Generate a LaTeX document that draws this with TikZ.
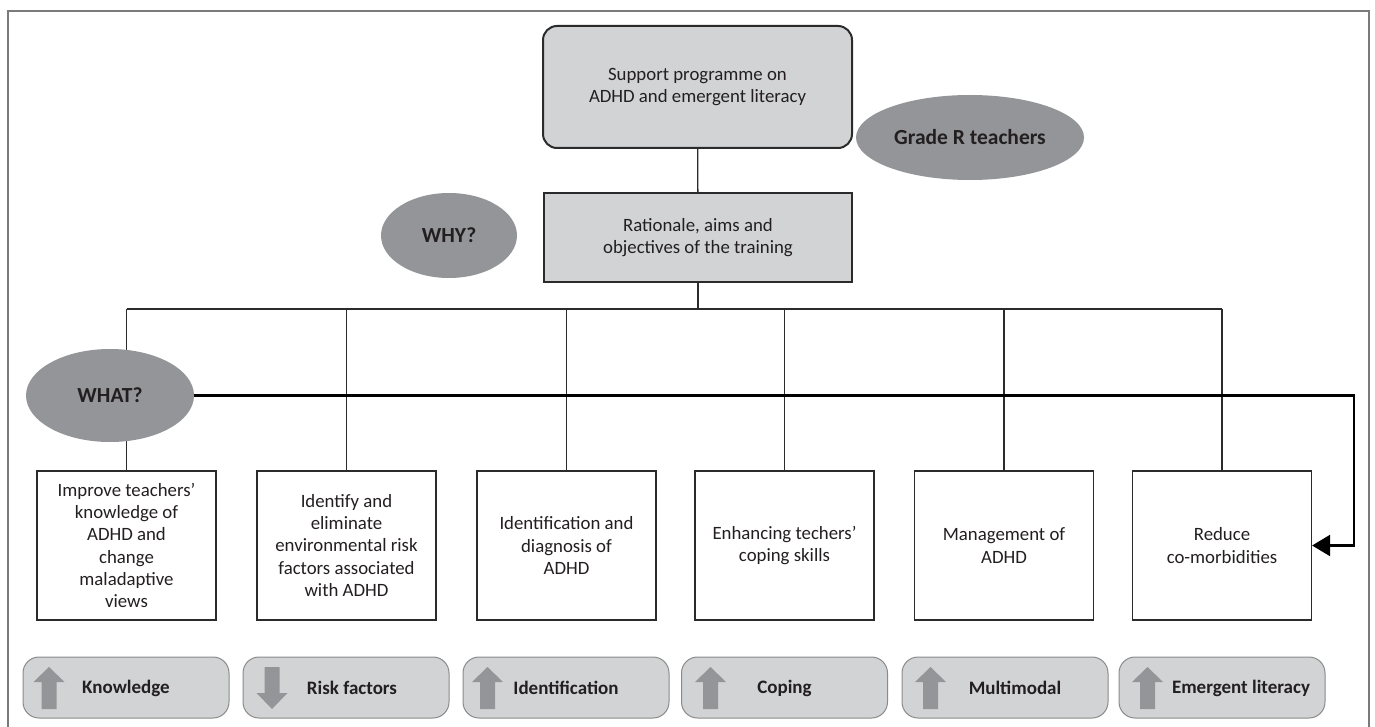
\documentclass[tikz,border=0pt]{standalone}
\usepackage{fontspec}
\setmainfont{Carlito}
\usetikzlibrary{shapes.geometric,arrows.meta}

\definecolor{boxgray}{HTML}{D1D3D4}
\definecolor{ovalgray}{HTML}{939598}
\definecolor{textdark}{HTML}{231F20}
\definecolor{linedark}{HTML}{2B2B2B}
\definecolor{edgegray}{HTML}{8A8A8A}
\definecolor{framegray}{HTML}{7A7A7A}

\newcommand{\txtfont}{\fontsize{18.8}{22.3}\selectfont}
\newcommand{\tagfont}{\fontsize{21.5}{25}\selectfont\bfseries}

\pgfdeclarelayer{back}
\pgfsetlayers{back,main}

\tikzset{
  uparrow/.pic={\fill[ovalgray] (-7.5,21) -- (-7.5,-6) -- (-15.5,-6) -- (0,-21)
                -- (15.5,-6) -- (7.5,-6) -- (7.5,21) -- cycle;},
  downarrow/.pic={\fill[ovalgray] (-7.5,-21) -- (-7.5,5) -- (-15.5,5) -- (0,21)
                -- (15.5,5) -- (7.5,5) -- (7.5,-21) -- cycle;}
}

\begin{document}
\begin{tikzpicture}[x=1pt,y=-1pt,
  progbox/.style={draw=linedark,line width=2pt,fill=boxgray,rounded corners=14pt,
    minimum width=309pt,minimum height=122pt,align=center,font=\txtfont,text=textdark},
  aimbox/.style={draw=linedark,line width=1.2pt,fill=boxgray,
    minimum width=308pt,minimum height=89pt,align=center,font=\txtfont,text=textdark},
  oval/.style={ellipse,fill=ovalgray,inner sep=0pt,font=\tagfont,text=textdark},
  topicbox/.style={draw=linedark,line width=1.2pt,fill=white,inner sep=0pt,
    minimum width=179pt,minimum height=149pt,align=center,font=\txtfont,text=textdark},
  gainbox/.style={draw=edgegray,line width=1pt,fill=boxgray,rounded corners=16pt,
    minimum width=206pt,minimum height=61pt},
  gaintext/.style={font=\fontsize{19}{23}\selectfont\bfseries,text=textdark},
  wire/.style={linedark,line width=1.3pt},
  feed/.style={black,line width=2.4pt,-{Triangle[length=18pt,width=21pt]}}]
\useasboundingbox (0,0) rectangle (1375,727);
\draw[framegray,line width=1.2pt] (8,727) -- (8,11) -- (1369,11) -- (1369,727);

% top of the programme
\node (prog) at (697.5,87) [progbox] {Support programme on\\ADHD and emergent literacy};
\node (aims) at (698,237.5) [aimbox] {Rationale, aims and\\objectives of the training};
\node (grade) at (970,137.5) [oval,minimum width=228pt,minimum height=85pt] {Grade R teachers};
\node (why) at (449,235.5) [oval,minimum width=136pt,minimum height=85pt] {WHY?};

% the six topics
\node (t1) at (126.5,545.5) [topicbox] {Improve teachers’\\knowledge of\\ADHD and\\change\\maladaptive\\views};
\node (t2) at (346.5,545.5) [topicbox] {Identify and\\eliminate\\environmental risk\\factors associated\\with ADHD};
\node (t3) at (566.5,545.5) [topicbox] {Identification and\\diagnosis of\\ADHD};
\node (t4) at (784.5,545.5) [topicbox] {Enhancing techers’\\coping skills};
\node (t5) at (1004,545.5) [topicbox] {Management of\\ADHD};
\node (t6) at (1222,545.5) [topicbox] {Reduce\\co-morbidities};
\node (what) at (110,395.5) [oval,minimum width=168pt,minimum height=93pt] {WHAT?};

\coordinate (bus) at (698,309);
\coordinate (turn) at (1354,395.5);

% outcomes
\node (g1) at (126,687.5) [gainbox] {};
\node (g2) at (346,687.5) [gainbox] {};
\node (g3) at (566,687.5) [gainbox] {};
\node (g4) at (784.5,687.5) [gainbox] {};
\node (g5) at (1005,687.5) [gainbox] {};
\node (g6) at (1222,687.5) [gainbox] {};
\pic at (49,688) {uparrow};
\pic at (272,688) {downarrow};
\pic at (487.5,688) {uparrow};
\pic at (710.5,688) {uparrow};
\pic at (930.5,688) {uparrow};
\pic at (1147.5,688) {uparrow};
\node (l1) at (126,688) [gaintext] {Knowledge};
\node (l2) at (352,688) [gaintext] {Risk factors};
\node (l3) at (566,688) [gaintext] {Identification};
\node (l4) at (784.5,688) [gaintext] {Coping};
\node (l5) at (1015,688) [gaintext] {Multimodal};
\node (l6) at (1241,688) [gaintext] {Emergent literacy};

\begin{pgfonlayer}{back}
\draw[wire] (prog) -- (aims);
\draw[wire] (aims) -- (bus);
\draw[wire] (t1.north |- bus) -- (t6.north |- bus);
\draw[wire] (t1.north |- bus) -- (t1.north);
\draw[wire] (t2.north |- bus) -- (t2.north);
\draw[wire] (t3.north |- bus) -- (t3.north);
\draw[wire] (t4.north |- bus) -- (t4.north);
\draw[wire] (t5.north |- bus) -- (t5.north);
\draw[wire] (t6.north |- bus) -- (t6.north);
\draw[feed] (what) -- (turn) |- (t6.east);
\end{pgfonlayer}
\end{tikzpicture}
\end{document}
